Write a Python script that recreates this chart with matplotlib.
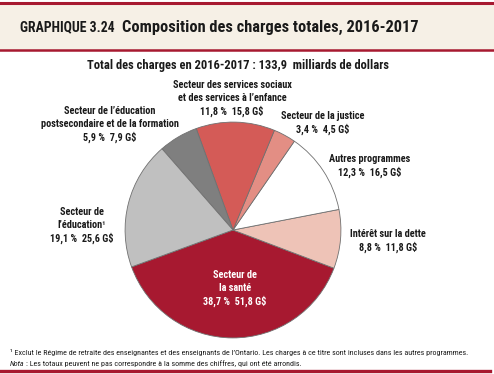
import matplotlib
matplotlib.use("Agg")
import matplotlib.pyplot as plt
from matplotlib.patches import Rectangle
from matplotlib.lines import Line2D

# ── Data (counter-clockwise from the health slice) ──
sectors = [
    "Secteur de\nla santé",
    "Intérêt sur la dette",
    "Autres programmes",
    "Secteur de la justice",
    "Secteur des services sociaux\net des services à l’enfance",
    "Secteur de l’éducation\npostsecondaire et de la formation",
    "Secteur de\nl’éducation¹",
]
charges = [51.8, 11.8, 16.5, 4.5, 15.8, 7.9, 25.6]  # G$
shares = [38.7, 8.8, 12.3, 3.4, 11.8, 5.9, 19.1]    # %
total = 133.9

colors = ["#A71930", "#EEC3B7", "#FFFFFF", "#E38E84", "#D45B57", "#7F7F7F", "#C0C0C0"]
# label centres in pixels (x, y of first line)
label_pos = [(235, 275), (388, 234), (370, 159), (323, 116), (232, 85), (110, 111), (82, 212)]
label_col = ["white", "#1A1A1A", "#1A1A1A", "#1A1A1A", "#1A1A1A", "#1A1A1A", "#1A1A1A"]

W, H = 494, 374
FONT = ["Roboto Condensed", "PT Sans Narrow", "Liberation Sans", "DejaVu Sans"]
RED = "#A71930"


def fx(px):
    return px / W


def fy(py):
    return 1 - py / H


fig = plt.figure(figsize=(W / 100, H / 100), dpi=100)
fig.patch.set_facecolor("white")

# ── Header band ──
fig.patches.append(Rectangle((0, fy(50)), 1, fy(3) - fy(50), transform=fig.transFigure,
                             facecolor="#F6F0E6", edgecolor="none"))
fig.lines.append(Line2D([0, 1], [fy(2.5), fy(2.5)], transform=fig.transFigure, color=RED, lw=2.2))
fig.lines.append(Line2D([0, 1], [fy(50), fy(50)], transform=fig.transFigure, color=RED, lw=1.8))
fig.lines.append(Line2D([0, fx(490)], [fy(371), fy(371)], transform=fig.transFigure, color=RED, lw=2.4))

fig.text(fx(20), fy(27.5), "GRAPHIQUE 3.24", family=FONT, fontweight="bold",
         fontsize=9.9, color="#1A1A1A", va="center", ha="left")
fig.text(fx(122), fy(27), "Composition des charges totales, 2016-2017", family=FONT,
         fontweight="bold", fontsize=11.8, color="#1A1A1A", va="center", ha="left")

fig.text(fx(238), fy(65), f"Total des charges en 2016-2017 : {total:.1f}  milliards de dollars".replace(".", ","),
         family=FONT, fontweight="bold", fontsize=9, color="#1A1A1A", va="center", ha="center")

# ── Pie ──
cx, cy, r = 233, 230, 109
ax = fig.add_axes([fx(cx - r), fy(cy + r), 2 * r / W, 2 * r / H])
ax.pie(charges, colors=colors, startangle=200, counterclock=True, radius=1,
       wedgeprops=dict(edgecolor="#707070", linewidth=0.6))
ax.set_xlim(-1.01, 1.01)
ax.set_ylim(-1.01, 1.01)
ax.axis("off")

# ── Labels ──
line_h = 13
for name, val, pct, (lx, ly), col in zip(sectors, charges, shares, label_pos, label_col):
    lines = name.split("\n") + [f"{pct:.1f} %  {val:.1f} G$".replace(".", ",")]
    for i, txt in enumerate(lines):
        fig.text(fx(lx), fy(ly + i * line_h), txt, family=FONT, fontweight="bold",
                 fontsize=7.35, color=col, ha="center", va="center")

# ── Notes ──
fig.text(fx(10), fy(352), "¹ Exclut le Régime de retraite des enseignantes et des enseignants de l’Ontario. "
         "Les charges à ce titre sont incluses dans les autres programmes.",
         family=FONT, fontsize=5.8, color="#1A1A1A", ha="left", va="center")
fig.text(fx(10), fy(363.5), "Nota", family=FONT, fontsize=5.8, style="italic",
         color="#1A1A1A", ha="left", va="center")
fig.text(fx(25.5), fy(363.5), ": Les totaux peuvent ne pas correspondre à la somme des chiffres, qui ont été arrondis.",
         family=FONT, fontsize=5.8, color="#1A1A1A", ha="left", va="center")

fig.savefig("out.png", dpi=100, facecolor="white")
plt.close(fig)
